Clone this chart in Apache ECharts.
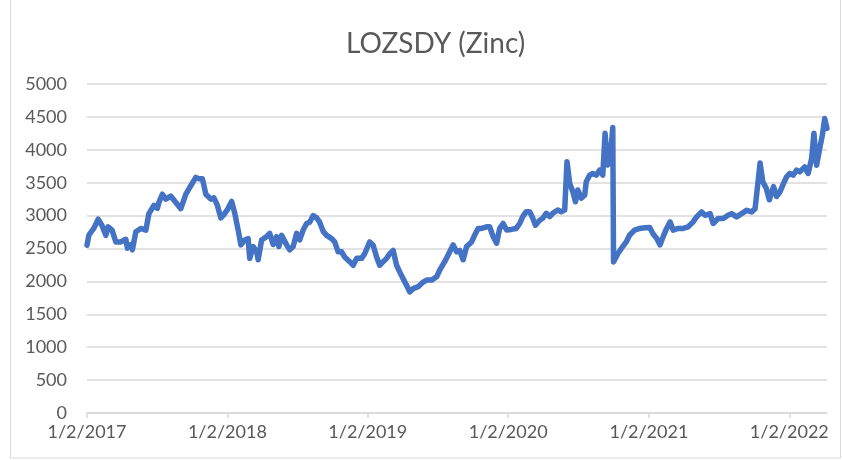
<!DOCTYPE html>
<html>
<head>
<meta charset="utf-8">
<script src="https://cdn.jsdelivr.net/npm/echarts@6/dist/echarts.min.js"></script>
<style>
  html, body { margin: 0; padding: 0; background: #fff; }
  #zinc_chart { width: 842px; height: 460px; }
</style>
</head>
<body>
<div id="zinc_chart"></div>
<script>
// LOZSDY (Zinc) price
const dates = [
  '2017-01-02', '2017-01-07', '2017-01-20', '2017-01-31', '2017-02-10', '2017-02-20', '2017-02-26', '2017-03-08',
  '2017-03-18', '2017-03-31', '2017-04-13', '2017-04-17', '2017-04-26', '2017-04-30', '2017-05-09', '2017-05-22',
  '2017-06-04', '2017-06-12', '2017-06-25', '2017-07-04', '2017-07-08', '2017-07-17', '2017-07-26', '2017-08-08',
  '2017-08-21', '2017-09-03', '2017-09-16', '2017-09-29', '2017-10-12', '2017-10-20', '2017-10-29', '2017-11-07',
  '2017-11-20', '2017-11-28', '2017-12-07', '2017-12-16', '2017-12-24',
  '2018-01-02', '2018-01-13', '2018-01-21', '2018-01-30', '2018-02-06', '2018-02-16', '2018-02-25', '2018-03-01',
  '2018-03-10', '2018-03-19', '2018-03-23', '2018-04-01', '2018-04-14', '2018-04-22', '2018-05-01', '2018-05-10',
  '2018-05-16', '2018-05-23', '2018-06-05', '2018-06-13', '2018-06-22', '2018-07-01', '2018-07-09', '2018-07-18',
  '2018-07-27', '2018-08-04', '2018-08-13', '2018-08-22', '2018-08-30', '2018-09-08', '2018-09-17', '2018-09-30',
  '2018-10-08', '2018-10-17', '2018-10-26', '2018-11-03', '2018-11-16', '2018-11-25', '2018-12-04', '2018-12-17',
  '2018-12-25',
  '2019-01-07', '2019-01-16', '2019-01-25', '2019-02-02', '2019-02-11', '2019-02-20', '2019-02-28', '2019-03-09',
  '2019-03-18', '2019-03-26', '2019-04-04', '2019-04-13', '2019-04-21', '2019-04-30', '2019-05-13', '2019-05-26',
  '2019-06-04', '2019-06-17', '2019-06-30', '2019-07-08', '2019-07-21', '2019-08-03', '2019-08-12', '2019-08-21',
  '2019-08-29', '2019-09-07', '2019-09-16', '2019-09-29', '2019-10-07', '2019-10-16', '2019-10-25', '2019-11-07',
  '2019-11-15', '2019-11-24', '2019-12-03', '2019-12-11', '2019-12-20', '2019-12-29',
  '2020-01-10', '2020-01-23', '2020-02-01', '2020-02-09', '2020-02-18', '2020-02-27', '2020-03-06', '2020-03-13',
  '2020-03-24', '2020-04-01', '2020-04-10', '2020-04-19', '2020-04-27', '2020-05-10', '2020-05-19', '2020-05-28',
  '2020-06-03', '2020-06-10', '2020-06-18', '2020-06-25', '2020-07-01', '2020-07-10', '2020-07-19', '2020-07-23',
  '2020-08-01', '2020-08-09', '2020-08-18', '2020-08-27', '2020-09-04', '2020-09-10', '2020-09-17', '2020-09-24',
  '2020-09-30', '2020-10-02', '2020-10-13', '2020-10-26', '2020-11-04', '2020-11-13', '2020-11-26', '2020-12-09',
  '2020-12-22',
  '2021-01-04', '2021-01-13', '2021-01-22', '2021-01-31', '2021-02-08', '2021-02-17', '2021-02-26', '2021-03-06',
  '2021-03-19', '2021-04-01', '2021-04-14', '2021-04-27', '2021-05-06', '2021-05-19', '2021-05-28', '2021-06-10',
  '2021-06-18', '2021-07-01', '2021-07-14', '2021-07-27', '2021-08-05', '2021-08-18', '2021-08-31', '2021-09-13',
  '2021-09-26', '2021-10-05', '2021-10-18', '2021-10-25', '2021-11-03', '2021-11-11', '2021-11-22', '2021-11-30',
  '2021-12-09', '2021-12-18', '2021-12-26',
  '2022-01-03', '2022-01-12', '2022-01-21', '2022-01-29', '2022-02-11', '2022-02-20', '2022-03-01', '2022-03-07',
  '2022-03-14', '2022-03-22', '2022-03-29', '2022-04-04', '2022-04-10'
];

const prices = [
  2550, 2705, 2810, 2945, 2850, 2700, 2830, 2780,
  2600, 2600, 2640, 2505, 2560, 2480, 2755, 2805,
  2780, 3030, 3155, 3110, 3200, 3325, 3250, 3295,
  3200, 3105, 3325, 3455, 3580, 3560, 3560, 3325,
  3250, 3270, 3155, 2965, 3015,
  3090, 3215, 3040, 2780, 2555, 2630, 2650, 2350,
  2530, 2450, 2330, 2630, 2680, 2730, 2560, 2680,
  2530, 2700, 2555, 2480, 2530, 2730, 2630, 2780,
  2880, 2900, 3000, 2965, 2900, 2760, 2700, 2650,
  2600, 2450, 2450, 2370, 2300, 2245, 2350, 2350,
  2420,
  2600, 2550, 2370, 2245, 2300, 2350, 2420, 2470,
  2245, 2145, 2040, 1940, 1840, 1890, 1920, 1990,
  2020, 2020, 2070, 2170, 2300, 2450, 2555, 2450,
  2470, 2330, 2530, 2600, 2705, 2805, 2805, 2830,
  2830, 2680, 2580, 2805, 2880, 2780,
  2790, 2805, 2880, 2985, 3060, 3060, 2960, 2855,
  2930, 2960, 3035, 2985, 3035, 3085, 3060, 3085,
  3820, 3490, 3365, 3210, 3390, 3265, 3310, 3515,
  3615, 3640, 3615, 3690, 3615, 4250, 3770, 3890,
  4340, 2295, 2420, 2530, 2600, 2705, 2780, 2805,
  2815,
  2820, 2720, 2655, 2555, 2680, 2805, 2905, 2780,
  2805, 2805, 2830, 2905, 2980, 3055, 3005, 3030,
  2880, 2955, 2955, 3005, 3030, 2980, 3030, 3080,
  3055, 3105, 3800, 3515, 3415, 3240, 3440, 3290,
  3365, 3490, 3590,
  3640, 3615, 3690, 3665, 3740, 3640, 3865, 4250,
  3765, 4020, 4225, 4475, 4325
];

const tickDates = ['2017-01-02', '2018-01-02', '2019-01-02', '2020-01-02', '2021-01-02', '2022-01-02'];
const yTicks = [0, 500, 1000, 1500, 2000, 2500, 3000, 3500, 4000, 4500, 5000];

const DAY = 86400000;
const toUTC = s => {
  const p = s.split('-').map(Number);
  return Date.UTC(p[0], p[1] - 1, p[2]);
};
const start = toUTC(dates[0]);
const dayOf = s => Math.round((toUTC(s) - start) / DAY);
const fmt = d => {
  const t = new Date(start + d * DAY);
  return (t.getUTCMonth() + 1) + '/' + t.getUTCDate() + '/' + t.getUTCFullYear();
};

const seriesData = dates.map((d, i) => [dayOf(d), prices[i]]);
const tickDays = tickDates.map(dayOf);

const textColor = '#595959';
const gridColor = '#d9d9d9';
const font = 'Lato, "Open Sans", sans-serif';

const myChart = echarts.init(document.getElementById('zinc_chart'));
const option = {
  animation: false,
  backgroundColor: '#fff',
  title: {
    text: 'LOZSDY (Zinc)',
    left: 341,
    top: 25,
    textStyle: { color: textColor, fontSize: 28, fontWeight: 'normal', fontFamily: font }
  },
  grid: { left: 87, right: 15, top: 84, bottom: 47 },
  xAxis: {
    type: 'value',
    min: 0,
    max: seriesData[seriesData.length - 1][0],
    axisLine: { show: true, lineStyle: { color: gridColor, width: 1.5 } },
    axisTick: { show: true, length: 5, customValues: tickDays, lineStyle: { color: gridColor, width: 1.5 } },
    axisLabel: {
      customValues: tickDays,
      formatter: v => fmt(v),
      color: textColor,
      fontSize: 18,
      fontFamily: font,
      margin: 10
    },
    splitLine: { show: false }
  },
  yAxis: {
    type: 'value',
    min: yTicks[0],
    max: yTicks[yTicks.length - 1],
    interval: yTicks[1] - yTicks[0],
    axisLine: { show: false },
    axisTick: { show: false },
    axisLabel: { formatter: v => String(v), color: textColor, fontSize: 18, fontFamily: font, margin: 20 },
    splitLine: { lineStyle: { color: gridColor, width: 1.5 } }
  },
  graphic: [{
    type: 'rect',
    shape: { x: 10.5, y: -2, width: 830, height: 460 },
    style: { fill: 'none', stroke: gridColor, lineWidth: 1 },
    silent: true
  }],
  series: [{
    name: 'LOZSDY',
    type: 'line',
    data: seriesData,
    showSymbol: false,
    lineStyle: { color: '#4472C4', width: 5.5, join: 'round', cap: 'round' },
    itemStyle: { color: '#4472C4' }
  }]
};
myChart.setOption(option);
</script>
</body>
</html>
